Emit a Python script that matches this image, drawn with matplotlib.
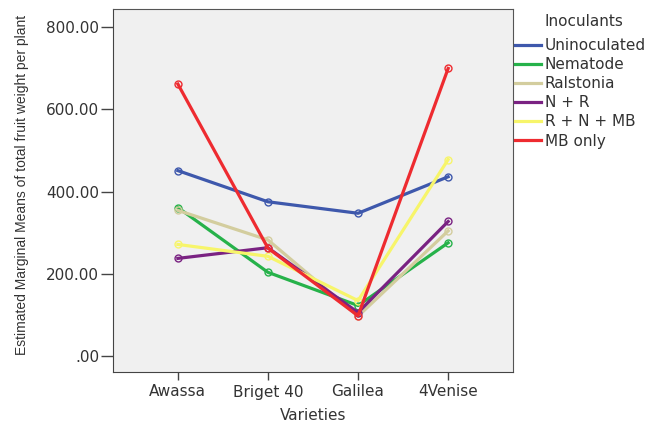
import matplotlib
matplotlib.use("Agg")
import matplotlib.pyplot as plt
from matplotlib.lines import Line2D
from matplotlib.ticker import FuncFormatter

varieties = ["Awassa", "Briget 40", "Galilea", "4Venise"]
inoculants = ["Uninoculated", "Nematode", "Ralstonia", "N + R", "R + N + MB", "MB only"]

uninoculated = [451, 375, 347, 436]
nematode = [361, 203, 122, 275]
ralstonia = [354, 282, 96, 304]
n_r = [237, 263, 105, 327]
r_n_mb = [271, 242, 134, 478]
mb_only = [662, 262, 97, 700]

series = [uninoculated, nematode, ralstonia, n_r, r_n_mb, mb_only]
colors = ["#3e58ac", "#26b24a", "#d3cd9e", "#7a2282", "#f7f56a", "#ee2b30"]

plt.rcParams['font.family'] = ['DejaVu Sans']
txt = "#333333"

fig = plt.figure(figsize=(6.67, 4.26), dpi=100)
ax = fig.add_axes([113/667, 1-372/426, 400/667, 363/426])
ax.set_facecolor("#f0f0f0")

x = list(range(len(varieties)))
for vals, c in zip(series, colors):
    ax.plot(x, vals, color=c, lw=2.3, marker="o", markersize=5,
            markerfacecolor="none", markeredgecolor=c, markeredgewidth=1.0)

ax.set_xlim(-0.72, 3.72)
ax.set_ylim(-40, 845)
ax.set_yticks([0, 200, 400, 600, 800])
ax.yaxis.set_major_formatter(FuncFormatter(lambda v, p: ".00" if v == 0 else "%.2f" % v))
ax.set_xticks(x)
ax.set_xticklabels(varieties)

for s in ["top", "right"]:
    ax.spines[s].set_color("#555555")
for s in ["left", "bottom"]:
    ax.spines[s].set_color("#444444")
ax.tick_params(axis="y", length=9, width=1, color="#444444", labelsize=11, labelcolor=txt, pad=1)
ax.tick_params(axis="x", length=6, width=1, color="#444444", labelsize=11, labelcolor=txt, pad=3)

ax.set_xlabel("Varieties", fontsize=11, color=txt, labelpad=6)
fig.text(22/667, 1-185/426, "Estimated Marginal Means of total fruit weight per plant",
         rotation=90, ha="center", va="center", fontsize=10, color=txt,
         family=["Liberation Sans"])

handles = [Line2D([], [], color=c, lw=2.3) for c in colors]
fig.text(544/667, 1-21/426, "Inoculants", fontsize=11, color=txt, ha="left", va="center")
fig.legend(handles, inoculants, loc="upper left", bbox_to_anchor=(515/667, 1-38/426),
           frameon=False, fontsize=11, handlelength=1.7, handletextpad=0.25,
           labelspacing=0.27, borderpad=0, borderaxespad=0, labelcolor=txt)

fig.savefig("out.png", dpi=100)
